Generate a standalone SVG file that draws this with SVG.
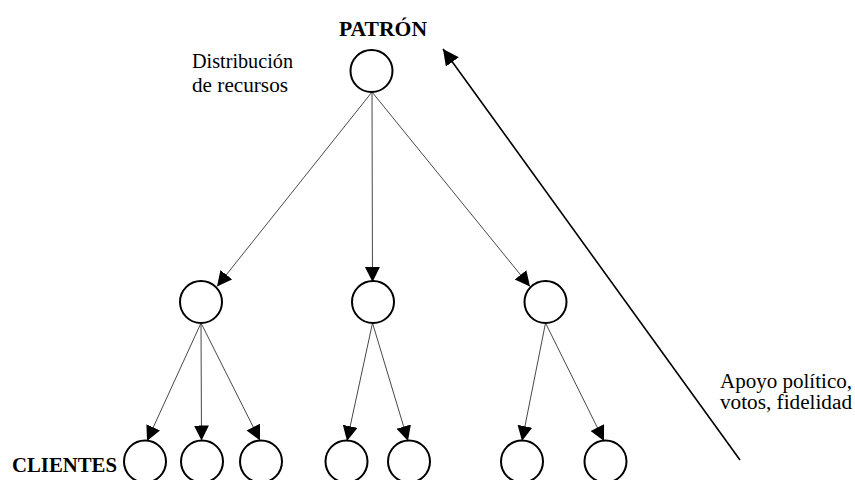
<svg xmlns="http://www.w3.org/2000/svg" width="855" height="480" viewBox="0 0 855 480">
<style>
.node{fill:#fff;stroke:#000;stroke-width:2}
.edge{stroke:#333;stroke-width:0.9;fill:none;marker-end:url(#ah)}
.big{stroke:#000;stroke-width:1.6;fill:none;marker-end:url(#ahb)}
.t{font-family:"Liberation Serif","Times New Roman",serif;font-size:20px;fill:#000}
.b{font-weight:bold}
</style>
<defs>
<marker id="ah" markerUnits="userSpaceOnUse" markerWidth="16" markerHeight="16" refX="15" refY="7.5" orient="auto" viewBox="0 0 16 16">
<path d="M0,0 L15,7.5 L0,15 z" fill="#000"/>
</marker>
<marker id="ahb" markerUnits="userSpaceOnUse" markerWidth="18" markerHeight="18" refX="16" refY="8" orient="auto" viewBox="0 0 18 18">
<path d="M0,0 L16,8 L0,16 z" fill="#000"/>
</marker>
</defs>
<rect width="855" height="480" fill="#fff"/>
<g id="connectors">
<line class="edge" x1="372" y1="92" x2="217" y2="286.5"/>
<line class="edge" x1="372" y1="92" x2="372.5" y2="282"/>
<line class="edge" x1="372" y1="92" x2="530" y2="286.5"/>
<line class="edge" x1="201" y1="323" x2="147" y2="441"/>
<line class="edge" x1="201" y1="323" x2="201.5" y2="440.5"/>
<line class="edge" x1="201" y1="323" x2="260" y2="440.5"/>
<line class="edge" x1="372.5" y1="323" x2="347" y2="441"/>
<line class="edge" x1="372.5" y1="323" x2="408" y2="441"/>
<line class="edge" x1="545.5" y1="323" x2="522" y2="441"/>
<line class="edge" x1="545.5" y1="323" x2="604" y2="441"/>
<line class="big" x1="740" y1="460" x2="443" y2="49"/>
</g>
<g id="patron">
<circle class="node" cx="371.5" cy="71" r="21"/>
<text class="t b" x="339" y="36" textLength="88" lengthAdjust="spacingAndGlyphs">PATRÓN</text>
</g>
<g id="label-distribucion">
<text class="t" x="192" y="68" textLength="101" lengthAdjust="spacingAndGlyphs">Distribución</text>
<text class="t" x="192" y="92" textLength="96" lengthAdjust="spacingAndGlyphs">de recursos</text>
</g>
<g id="mid1"><circle class="node" cx="201" cy="302" r="21"/></g>
<g id="mid2"><circle class="node" cx="373" cy="302" r="21"/></g>
<g id="mid3"><circle class="node" cx="545.5" cy="302" r="21"/></g>
<g id="c1"><circle class="node" cx="145" cy="461.5" r="21"/></g>
<g id="c2"><circle class="node" cx="202" cy="461.5" r="21"/></g>
<g id="c3"><circle class="node" cx="261" cy="461.5" r="21"/></g>
<g id="c4"><circle class="node" cx="346.5" cy="461.5" r="21"/></g>
<g id="c5"><circle class="node" cx="409" cy="461.5" r="21"/></g>
<g id="c6"><circle class="node" cx="522" cy="461.5" r="21"/></g>
<g id="c7"><circle class="node" cx="605.5" cy="461.5" r="21"/></g>
<g id="clientes">
<text class="t b" x="12" y="471.5" textLength="105" lengthAdjust="spacingAndGlyphs">CLIENTES</text>
</g>
<g id="label-apoyo">
<text class="t" x="720" y="388" textLength="132" lengthAdjust="spacingAndGlyphs">Apoyo político,</text>
<text class="t" x="720" y="409" textLength="132" lengthAdjust="spacingAndGlyphs">votos, fidelidad</text>
</g>
</svg>
